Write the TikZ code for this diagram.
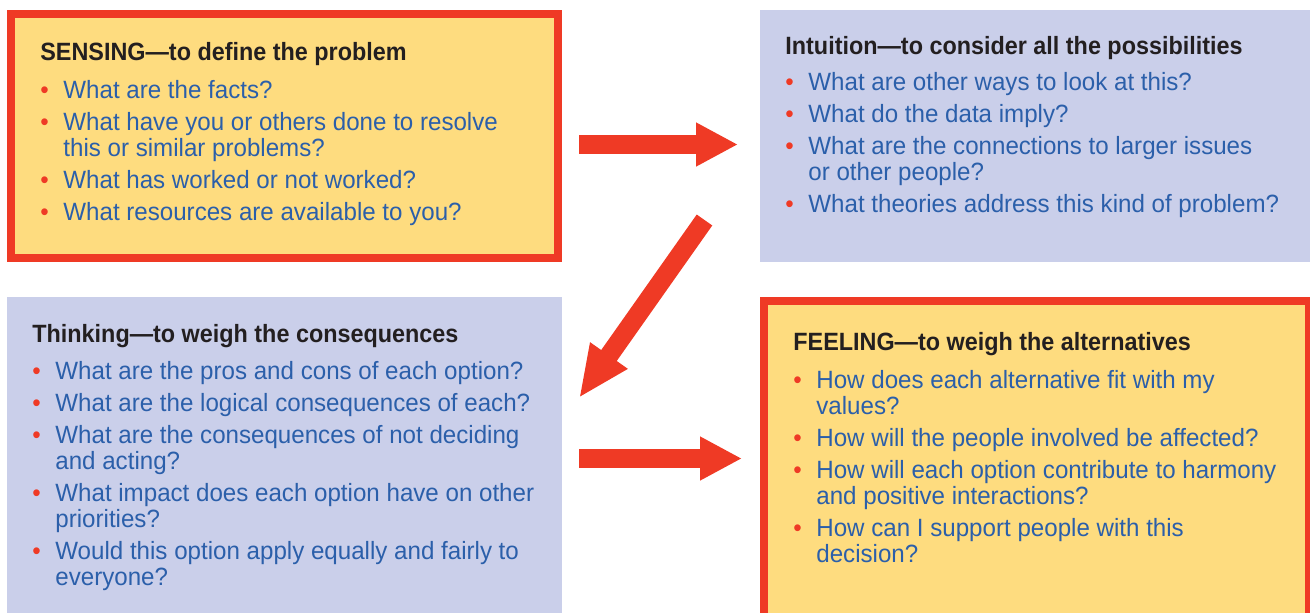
\documentclass[tikz,border=0pt]{standalone}
\usepackage[dvipsnames]{xcolor}
\usepackage{fontspec}
\setmainfont{Liberation Sans}[FakeStretch=0.965,BoldFeatures={FakeStretch=0.935}]
\usetikzlibrary{arrows.meta}
\definecolor{boxred}{HTML}{EF3A25}
\definecolor{boxyellow}{HTML}{FEDC7F}
\definecolor{boxlavender}{HTML}{CACFEA}
\definecolor{askblue}{HTML}{2B5FAA}
\definecolor{headblack}{HTML}{231F20}
\newcommand{\qi}{\makebox[11.5pt][l]{\textcolor{boxred}{\textbullet}}}
\newcommand{\qc}{\hspace*{11.5pt}}
\begin{document}
\begin{tikzpicture}[x=0.5pt,y=-0.5pt,
    yellow box/.style={draw=boxred,fill=boxyellow,line width=4pt,inner sep=0pt,outer sep=0pt},
    lavender box/.style={fill=boxlavender,inner sep=0pt,outer sep=0pt},
    head node/.style={anchor=base west,inner sep=0pt,text=headblack,font=\fontsize{12.5pt}{13pt}\selectfont\bfseries},
    list node/.style={anchor=base west,inner sep=0pt,text=askblue,font=\fontsize{12.5pt}{13pt}\selectfont},
    big arrow/.style={draw=boxred,line width=9.5pt,-{Triangle[length=21pt,width=20.5pt]}}]
    \useasboundingbox (0,0) rectangle (1310,612);
    \clip (0,0) rectangle (1310,612);

    \node[yellow box, minimum width=273.5pt, minimum height=122pt] (sensing) at (284.5,136) {};
    \node[lavender box, minimum width=276pt, minimum height=126pt] (intuition) at (1036,136) {};
    \node[lavender box, minimum width=277.5pt, minimum height=161.5pt] (thinking) at (284.5,458.5) {};
    \node[yellow box, minimum width=272.5pt, minimum height=169.5pt] (feeling) at (1036.5,470.5) {};

    \node[head node] (sensing head) at (40,60) {SENSING—to define the problem};
    \node[list node] (sensing list) at (40,98) {\begin{tabular}[t]{@{}l@{}}
        \qi What are the facts?\\[3pt]
        \qi What have you or others done to resolve\\
        \qc this or similar problems?\\[3pt]
        \qi What has worked or not worked?\\[3pt]
        \qi What resources are available to you?
        \end{tabular}};

    \node[head node] (intuition head) at (785,54) {Intuition—to consider all the possibilities};
    \node[list node] (intuition list) at (785,90) {\begin{tabular}[t]{@{}l@{}}
        \qi What are other ways to look at this?\\[3pt]
        \qi What do the data imply?\\[3pt]
        \qi What are the connections to larger issues\\
        \qc or other people?\\[3pt]
        \qi What theories address this kind of problem?
        \end{tabular}};

    \node[head node] (thinking head) at (32,342) {Thinking—to weigh the consequences};
    \node[list node] (thinking list) at (32,379) {\begin{tabular}[t]{@{}l@{}}
        \qi What are the pros and cons of each option?\\[3pt]
        \qi What are the logical consequences of each?\\[3pt]
        \qi What are the consequences of not deciding\\
        \qc and acting?\\[3pt]
        \qi What impact does each option have on other\\
        \qc priorities?\\[3pt]
        \qi Would this option apply equally and fairly to\\
        \qc everyone?
        \end{tabular}};

    \node[head node] (feeling head) at (793,350) {FEELING—to weigh the alternatives};
    \node[list node] (feeling list) at (793,388) {\begin{tabular}[t]{@{}l@{}}
        \qi How does each alternative fit with my\\
        \qc values?\\[3pt]
        \qi How will the people involved be affected?\\[3pt]
        \qi How will each option contribute to harmony\\
        \qc and positive interactions?\\[3pt]
        \qi How can I support people with this\\
        \qc decision?
        \end{tabular}};

    \coordinate (top tail) at (579,144.5);
    \coordinate (top tip) at (738,144.5);
    \coordinate (cross tail) at (704.5,220);
    \coordinate (cross tip) at (579,398);
    \coordinate (low tail) at (579,458.5);
    \coordinate (low tip) at (742,458.5);

    \draw[big arrow] (top tail) -- (top tip);
    \draw[big arrow, -{Triangle[length=26pt,width=21pt]}] (cross tail) -- (cross tip);
    \draw[big arrow] (low tail) -- (low tip);
\end{tikzpicture}
\end{document}
